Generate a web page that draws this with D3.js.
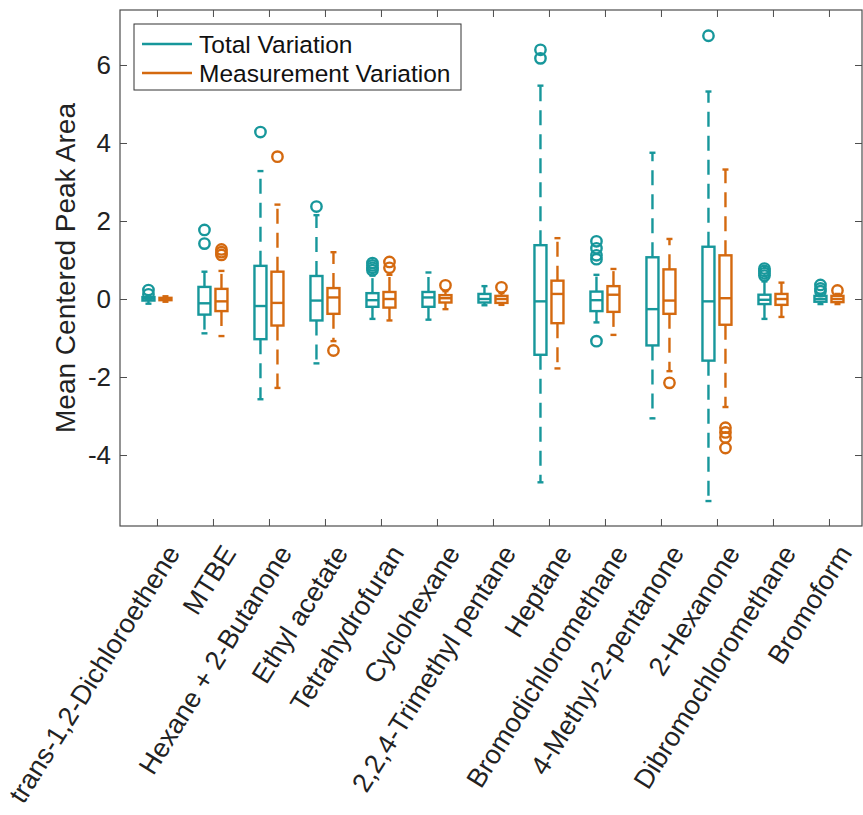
<!DOCTYPE html>
<html>
<head>
<meta charset="utf-8">
<script src="https://cdn.jsdelivr.net/npm/d3@7"></script>
<style>
  body { margin: 0; background: #fff; }
  svg { font-family: "Liberation Sans", Arial, Helvetica, sans-serif; }
</style>
</head>
<body>
<div id="chart"></div>
<script>
const categories = [
  "trans-1,2-Dichloroethene", "MTBE", "Hexane + 2-Butanone", "Ethyl acetate",
  "Tetrahydrofuran", "Cyclohexane", "2,2,4-Trimethyl pentane", "Heptane",
  "Bromodichloromethane", "4-Methyl-2-pentanone", "2-Hexanone",
  "Dibromochloromethane", "Bromoform"
]
const yTicks = [-4, -2, 0, 2, 4, 6]

// Total Variation
const totalLo  = [-0.12, -0.88, -2.57, -1.65, -0.51, -0.53, -0.16, -4.70, -0.60, -3.06, -5.18, -0.51, -0.13]
const totalQ1  = [-0.04, -0.40, -1.03, -0.55, -0.20, -0.20, -0.09, -1.43, -0.31, -1.19, -1.58, -0.13, -0.07]
const totalMed = [ 0.01, -0.11, -0.18, -0.04, -0.03,  0.04,  0.00, -0.06, -0.03, -0.26, -0.06, -0.02,  0.00]
const totalQ3  = [ 0.05,  0.31,  0.85,  0.59,  0.15,  0.18,  0.13,  1.38,  0.19,  1.07,  1.34,  0.11,  0.08]
const totalHi  = [ 0.08,  0.70,  3.28,  2.15,  0.60,  0.68,  0.33,  5.47,  0.62,  3.75,  5.32,  0.45,  0.12]
const totalOut = [
  [0.12, 0.23], [1.42, 1.77], [4.28], [2.37], [0.74, 0.80, 0.86, 0.92], [], [],
  [6.17, 6.39], [1.02, 1.12, 1.30, 1.48, -1.08], [], [6.75], [0.60, 0.66, 0.72, 0.78], [0.20, 0.27, 0.36]
]

// Measurement Variation
const measLo  = [-0.07, -0.95, -2.28, -1.08, -0.55, -0.26, -0.15, -1.78, -0.92, -1.85, -2.77, -0.46, -0.13]
const measQ1  = [-0.03, -0.31, -0.68, -0.38, -0.22, -0.09, -0.10, -0.62, -0.33, -0.38, -0.66, -0.15, -0.08]
const measMed = [ 0.00, -0.06, -0.10,  0.04,  0.00,  0.02,  0.00,  0.13,  0.11, -0.04,  0.02,  0.00,  0.00]
const measQ3  = [ 0.03,  0.26,  0.70,  0.28,  0.18,  0.10,  0.08,  0.47,  0.33,  0.76,  1.12,  0.13,  0.08]
const measHi  = [ 0.07,  0.72,  2.42,  1.20,  0.62,  0.20,  0.15,  1.56,  0.77,  1.54,  3.32,  0.42,  0.13]
const measOut = [
  [], [1.13, 1.20, 1.27], [3.65], [-1.32], [0.80, 0.95], [0.35], [0.30],
  [], [], [-2.15], [-3.30, -3.42, -3.55, -3.82], [], [0.22]
]

const series = [
  { name: "Total Variation", color: "#17979b", offset: -8.5,
    lo: totalLo, q1: totalQ1, med: totalMed, q3: totalQ3, hi: totalHi, out: totalOut },
  { name: "Measurement Variation", color: "#d4690f", offset: 8.5,
    lo: measLo, q1: measQ1, med: measMed, q3: measQ3, hi: measHi, out: measOut }
]

const width = 863
const height = 815
const plot = { left: 120, right: 862, top: 10, bottom: 526 }
const boxW = 12
const capW = 6

const svg = d3.select("#chart").append("svg")
  .attr("width", width)
  .attr("height", height)

const x = d3.scaleLinear().domain([0.34, 13.59]).range([plot.left, plot.right])
const y = d3.scaleLinear().domain([-5.82, 7.41]).range([plot.bottom, plot.top])

const axisColor = "#4d4d4d"

// y axis (left) with inward ticks
const yAxis = svg.append("g")
  .attr("transform", "translate(" + plot.left + ",0)")
  .call(d3.axisRight(y).tickValues(yTicks).tickSize(7).tickFormat(""))
yAxis.select(".domain").remove()
yAxis.selectAll("line").attr("stroke", axisColor)

svg.append("g")
  .selectAll("text")
  .data(yTicks)
  .join("text")
    .attr("x", plot.left - 9)
    .attr("y", d => y(d))
    .attr("dy", "0.36em")
    .attr("text-anchor", "end")
    .attr("font-size", 26)
    .attr("fill", "#222")
    .text(d => d)

// right side ticks
const yAxisR = svg.append("g")
  .attr("transform", "translate(" + plot.right + ",0)")
  .call(d3.axisLeft(y).tickValues(yTicks).tickSize(7).tickFormat(""))
yAxisR.select(".domain").remove()
yAxisR.selectAll("line").attr("stroke", axisColor)

// x ticks bottom and top
const idx = d3.range(1, categories.length + 1)
const xAxisB = svg.append("g")
  .attr("transform", "translate(0," + plot.bottom + ")")
  .call(d3.axisTop(x).tickValues(idx).tickSize(7).tickFormat(""))
xAxisB.select(".domain").remove()
xAxisB.selectAll("line").attr("stroke", axisColor)

const xAxisT = svg.append("g")
  .attr("transform", "translate(0," + plot.top + ")")
  .call(d3.axisBottom(x).tickValues(idx).tickSize(7).tickFormat(""))
xAxisT.select(".domain").remove()
xAxisT.selectAll("line").attr("stroke", axisColor)

// frame
svg.append("rect")
  .attr("x", plot.left)
  .attr("y", plot.top)
  .attr("width", plot.right - plot.left)
  .attr("height", plot.bottom - plot.top)
  .attr("fill", "none")
  .attr("stroke", axisColor)
  .attr("stroke-width", 1.2)

// category labels, rotated
svg.append("g")
  .selectAll("text")
  .data(categories)
  .join("text")
    .attr("transform", (d, i) => "translate(" + (x(i + 1) + 16) + "," + (plot.bottom + 22) + ") rotate(-58)")
    .attr("text-anchor", "end")
    .attr("dy", "0.35em")
    .attr("font-size", 27)
    .attr("fill", "#222")
    .text(d => d)

// y label
svg.append("text")
  .attr("transform", "translate(75," + ((plot.top + plot.bottom) / 2) + ") rotate(-90)")
  .attr("text-anchor", "middle")
  .attr("font-size", 28)
  .attr("fill", "#222")
  .text("Mean Centered Peak Area")

// boxes
series.forEach(s => {
  const g = svg.append("g")
    .attr("fill", "none")
    .attr("stroke", s.color)
    .attr("stroke-width", 2.4)

  categories.forEach((c, i) => {
    const cx = x(i + 1) + s.offset

    // whiskers (dashed) from box edge outwards
    g.append("line")
      .attr("x1", cx).attr("x2", cx)
      .attr("y1", y(s.q3[i])).attr("y2", y(s.hi[i]))
      .attr("stroke-dasharray", "15,9")
    g.append("line")
      .attr("x1", cx).attr("x2", cx)
      .attr("y1", y(s.q1[i])).attr("y2", y(s.lo[i]))
      .attr("stroke-dasharray", "15,9")

    // caps
    g.append("line")
      .attr("x1", cx - capW / 2).attr("x2", cx + capW / 2)
      .attr("y1", y(s.hi[i])).attr("y2", y(s.hi[i]))
    g.append("line")
      .attr("x1", cx - capW / 2).attr("x2", cx + capW / 2)
      .attr("y1", y(s.lo[i])).attr("y2", y(s.lo[i]))

    // box
    g.append("rect")
      .attr("x", cx - boxW / 2)
      .attr("y", y(s.q3[i]))
      .attr("width", boxW)
      .attr("height", y(s.q1[i]) - y(s.q3[i]))
      .attr("fill", "#fff")

    // median
    g.append("line")
      .attr("x1", cx - boxW / 2).attr("x2", cx + boxW / 2)
      .attr("y1", y(s.med[i])).attr("y2", y(s.med[i]))

    // outliers
    g.selectAll(null)
      .data(s.out[i])
      .join("circle")
        .attr("cx", cx)
        .attr("cy", d => y(d))
        .attr("r", 5.2)
  })
})

// legend
const legend = svg.append("g")
legend.append("rect")
  .attr("x", 134).attr("y", 24)
  .attr("width", 327).attr("height", 66)
  .attr("fill", "#fff")
  .attr("stroke", "#333")
  .attr("stroke-width", 1)

series.forEach((s, i) => {
  const ly = 44 + i * 29
  legend.append("line")
    .attr("x1", 142).attr("x2", 192)
    .attr("y1", ly).attr("y2", ly)
    .attr("stroke", s.color)
    .attr("stroke-width", 2.4)
  legend.append("text")
    .attr("x", 199)
    .attr("y", ly)
    .attr("dy", "0.36em")
    .attr("font-size", 24.5)
    .attr("fill", "#111")
    .text(s.name)
})
</script>
</body>
</html>
